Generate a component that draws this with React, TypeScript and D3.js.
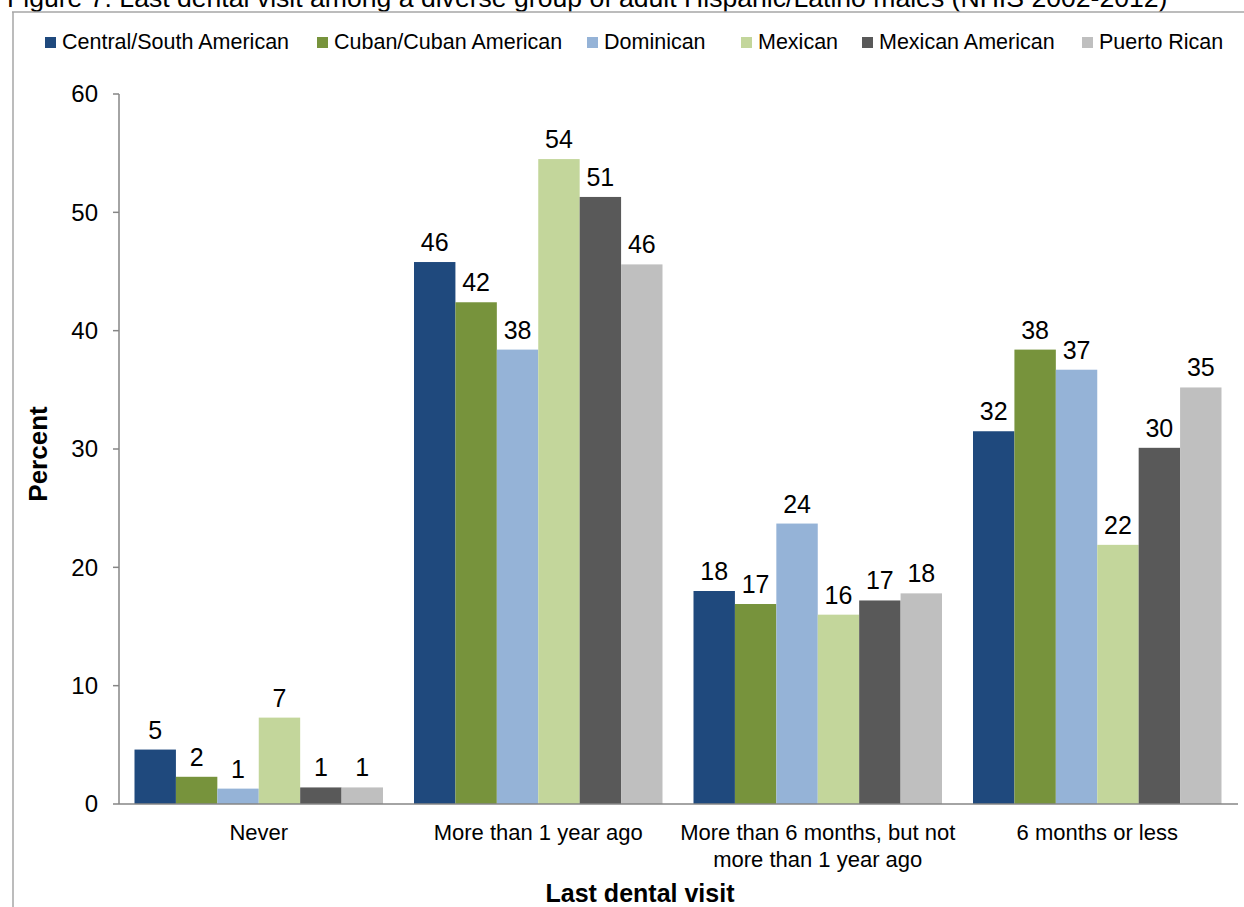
import React from "react";
import * as d3 from "d3";

const categories: string[][] = [
  ["Never"],
  ["More than 1 year ago"],
  ["More than 6 months, but not", "more than 1 year ago"],
  ["6 months or less"],
];
const seriesNames = [
  "Central/South American",
  "Cuban/Cuban American",
  "Dominican",
  "Mexican",
  "Mexican American",
  "Puerto Rican",
];
const seriesColors = ["#1F497D", "#77933C", "#95B3D7", "#C3D69B", "#595959", "#BFBFBF"];
// values per series, in category order
const centralSouth = [4.6, 45.8, 18.0, 31.5];
const cuban = [2.3, 42.4, 16.9, 38.4];
const dominican = [1.3, 38.4, 23.7, 36.7];
const mexican = [7.3, 54.5, 16.0, 21.9];
const mexicanAmerican = [1.4, 51.3, 17.2, 30.1];
const puertoRican = [1.4, 45.6, 17.8, 35.2];
const seriesValues = [centralSouth, cuban, dominican, mexican, mexicanAmerican, puertoRican];
const labelValues = [
  [5, 46, 18, 32],
  [2, 42, 17, 38],
  [1, 38, 24, 37],
  [7, 54, 16, 22],
  [1, 51, 17, 30],
  [1, 46, 18, 35],
];
const yTicks = [0, 10, 20, 30, 40, 50, 60];
const title = "Figure 7. Last dental visit among a diverse group of adult Hispanic/Latino males (NHIS 2002-2012)";

const FONT = "'Liberation Sans', Arial, sans-serif";

export default function App() {
  const W = 1244, H = 907;
  const left = 119, right = 1237, top = 94, bottom = 804;
  const x0 = d3.scaleBand<number>().domain(d3.range(categories.length)).range([left, right]).padding(0);
  const gap = x0.bandwidth() * (15.5 / 279.5);
  const x1 = d3.scaleBand<number>().domain(d3.range(seriesNames.length)).range([gap, x0.bandwidth() - gap]).padding(0);
  const y = d3.scaleLinear().domain([0, 60]).range([bottom, top]);

  const legendX = [45, 317, 587, 741, 862, 1082];

  return (
    <svg width={W} height={H} style={{ position: "absolute", left: 0, top: 0, background: "#fff" }} fontFamily={FONT}>
      <rect x={0} y={0} width={W} height={H} fill="#fff" />
      <text x={7} y={7} fontSize={26.6} fill="#000">{title}</text>
      {/* outer frame */}
      <line x1={12} x2={W} y1={12} y2={12} stroke="#a6a6a6" strokeWidth={1.5} />
      <line x1={13} x2={13} y1={12} y2={H} stroke="#a6a6a6" strokeWidth={1.5} />
      {/* legend */}
      {seriesNames.map((name, i) => (
        <g key={name}>
          <rect x={legendX[i]} y={37} width={11} height={11} fill={seriesColors[i]} />
          <text x={legendX[i] + 17} y={49} fontSize={21.5} fill="#000">{name}</text>
        </g>
      ))}
      {/* y axis */}
      <line x1={left} x2={left} y1={y(60)} y2={y(0)} stroke="#868686" strokeWidth={1.5} />
      {yTicks.map((t) => (
        <g key={t}>
          <line x1={left - 6} x2={left} y1={y(t)} y2={y(t)} stroke="#868686" strokeWidth={1.5} />
          <text x={98} y={y(t)} dy="0.35em" textAnchor="end" fontSize={24} fill="#000">{t}</text>
        </g>
      ))}
      {/* bars */}
      {categories.map((cat, ci) => (
        <g key={ci} transform={`translate(${x0(ci)},0)`}>
          {seriesValues.map((vals, si) => (
            <g key={si}>
              <rect x={x1(si)} y={y(vals[ci])} width={x1.bandwidth()} height={y(0) - y(vals[ci])} fill={seriesColors[si]} />
              <text x={(x1(si) as number) + x1.bandwidth() / 2} y={y(vals[ci]) - 11} textAnchor="middle" fontSize={25} fill="#000">
                {labelValues[si][ci]}
              </text>
            </g>
          ))}
        </g>
      ))}
      {/* x axis */}
      <line x1={left} x2={right + 1} y1={y(0)} y2={y(0)} stroke="#868686" strokeWidth={1.5} />
      {categories.map((cat, ci) => (
        <text key={ci} x={(x0(ci) as number) + x0.bandwidth() / 2} y={840} textAnchor="middle" fontSize={22} fill="#000">
          {cat.map((line, li) => (
            <tspan key={li} x={(x0(ci) as number) + x0.bandwidth() / 2} dy={li === 0 ? 0 : 27}>{line}</tspan>
          ))}
        </text>
      ))}
      {/* axis titles */}
      <text x={640} y={902} textAnchor="middle" fontSize={25} fontWeight="bold" fill="#000">Last dental visit</text>
      <text transform={`translate(47,454) rotate(-90)`} textAnchor="middle" fontSize={26} fontWeight="bold" fill="#000">Percent</text>
    </svg>
  );
}
